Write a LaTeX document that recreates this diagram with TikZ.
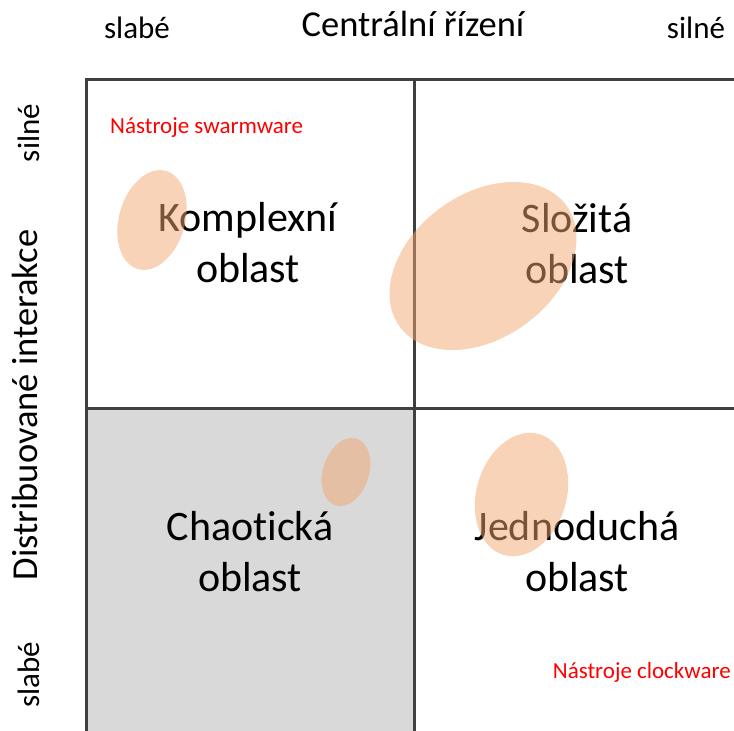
\documentclass[tikz,border=0pt]{standalone}
\usepackage{fontspec}
\setmainfont[Ligatures=NoCommon]{Carlito}
\definecolor{gridgray}{HTML}{404040}
\definecolor{cellgray}{HTML}{D9D9D9}
\definecolor{blobfill}{RGB}{241,167,111}
\begin{document}
\begin{tikzpicture}[x=1pt,y=-1pt,
  gridline/.style={draw=gridgray,line width=3pt},
  region/.style={font=\fontsize{42}{51}\selectfont,align=center,inner sep=0pt},
  axistitle/.style={font=\fontsize{36.5}{44}\selectfont,inner sep=0pt},
  axisend/.style={font=\fontsize{31}{37}\selectfont,inner sep=0pt},
  tool/.style={font=\fontsize{23}{27}\selectfont,text=red,inner sep=0pt},
  blob/.style={fill=blobfill,fill opacity=0.5,draw=none}]
\useasboundingbox (0,0) rectangle (734,731);

% shaded lower-left cell
\fill[cellgray] (86,408) rectangle (414,731);

% grid
\draw[gridline] (86,731) -- (86,79) -- (740,79);
\draw[gridline] (414,79) -- (414,731);
\draw[gridline] (86,408) -- (740,408);

% horizontal axis
\node[axisend]   (hweak)   at (137,28) {slabé};
\node[axistitle] (htitle)  at (413,24) {Centrální řízení};
\node[axisend]   (hstrong) at (696,28) {silné};

% vertical axis
\node[axisend,rotate=90]   (vstrong) at (29,133) {silné};
\node[axistitle,rotate=90] (vtitle)  at (25,405) {Distribuované interakce};
\node[axisend,rotate=90]   (vweak)   at (29,675) {slabé};

% tool labels
\node[tool,anchor=west] (swarm) at (110,128) {Nástroje swarmware};
\node[tool,anchor=east] (clock) at (731,672) {Nástroje clockware};

% regions
\node[region] (complex) at (248,243) {Komplexní\\oblast};
\node[region] (complicated) at (577,244) {Složitá\\oblast};
\node[region] (chaotic) at (250,552) {Chaotická\\oblast};
\node[region] (simple) at (577,552) {Jednoduchá\\oblast};

% translucent blobs
\fill[blob,rotate around={74:(152,220)}] (152,220) ellipse [x radius=51, y radius=33];
\fill[blob,rotate around={36:(483,266)}] (483,266) ellipse [x radius=103, y radius=72];
\fill[blob,rotate around={72.5:(346,472)}] (346,472) ellipse [x radius=35, y radius=23];
\fill[blob,rotate around={73.6:(521.5,494.5)}] (521.5,494.5) ellipse [x radius=63, y radius=45];
\end{tikzpicture}
\end{document}
